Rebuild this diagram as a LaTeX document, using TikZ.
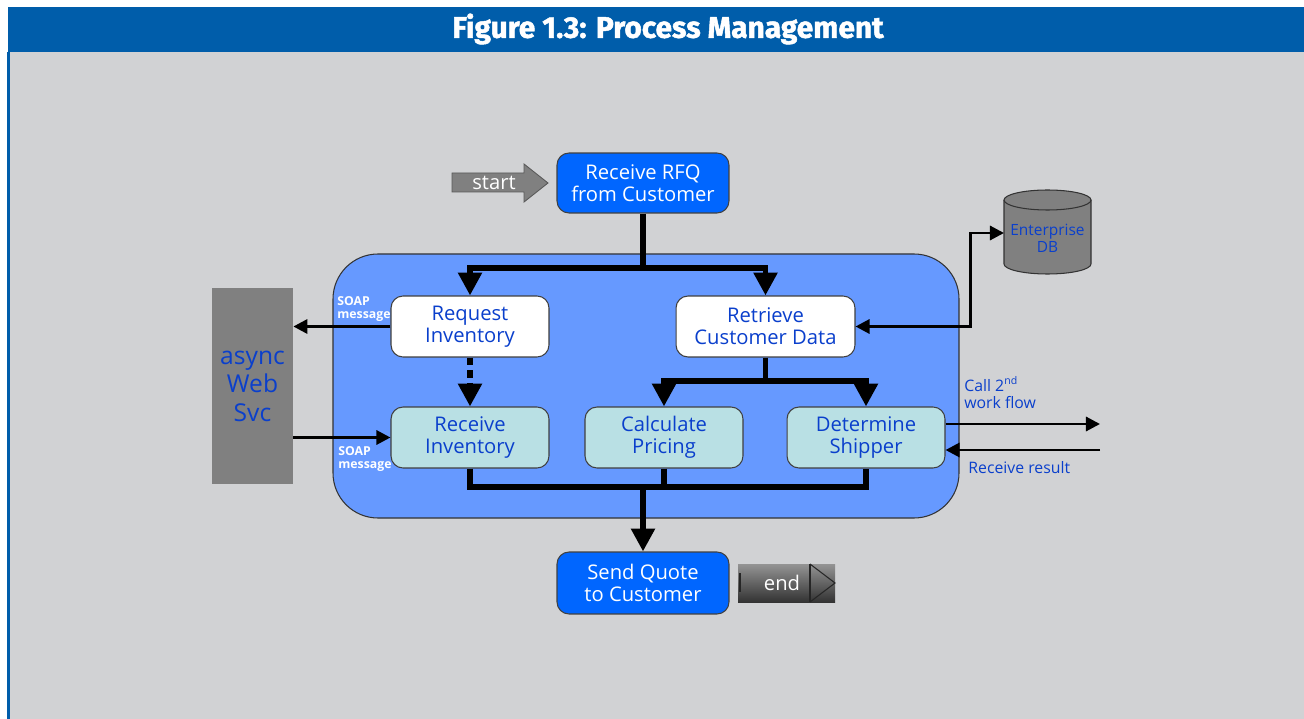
\documentclass[tikz,border=0pt]{standalone}
\usepackage{fontspec}
\setmainfont{Open Sans}
\newfontfamily\titlefont{Fira Sans}[BoldFeatures={FakeBold=1.6}]
\usetikzlibrary{arrows.meta}
\definecolor{hdrblue}{HTML}{005DAA}
\definecolor{bggray}{HTML}{D1D2D4}
\definecolor{boxblue}{HTML}{0066FF}
\definecolor{contblue}{HTML}{6699FF}
\definecolor{cyanbox}{HTML}{B9E0E4}
\definecolor{txtblue}{HTML}{0A3FCC}
\definecolor{midgray}{HTML}{808080}
\tikzset{
  procbox/.style={rounded corners=0.24cm, draw=black!75, line width=0.6pt, align=center,
    inner sep=0pt, minimum height=1.22cm, minimum width=3.16cm,
    font=\fontsize{11.5}{12.6}\selectfont},
  bluebox/.style={procbox, fill=boxblue, text=white, minimum width=3.44cm},
  whitebox/.style={procbox, fill=white, text=txtblue},
  lightbox/.style={procbox, fill=cyanbox, text=txtblue},
  bigline/.style={line width=3.4pt},
  bigarrow/.style={bigline, -{Triangle[width=13pt,length=13pt]}},
  thinarrow/.style={line width=1.7pt, -{Triangle[width=8pt,length=8pt]}},
  soaplbl/.style={anchor=north west, align=left, inner sep=0pt, text=white,
    font=\bfseries\fontsize{7}{7.6}\selectfont},
  sidelbl/.style={inner sep=0pt, align=left, text=txtblue, font=\fontsize{9}{9.8}\selectfont}
}
\begin{document}
\begin{tikzpicture}[x=0.02cm,y=-0.02cm]
\useasboundingbox (0,0) rectangle (1304,719);
\fill[white] (0,0) rectangle (1304,719);
% header and background
\fill[hdrblue] (8,7) rectangle (1304,52);
\fill[bggray] (10,52) rectangle (1304,719);
\fill[hdrblue] (7,52) rectangle (10,719);
\node[text=white, font=\titlefont\bfseries\fontsize{17}{19}\selectfont] (title) at (668,29) {Figure 1.3: Process Management};

% container
\draw[fill=contblue, draw=black!80, line width=0.6pt, rounded corners=0.9cm] (333,254) rectangle (959,518);

% async web svc
\node[fill=midgray, minimum width=1.62cm, minimum height=3.92cm, inner sep=0pt, align=center,
  text=txtblue, font=\fontsize{14}{16.2}\selectfont] (async) at (252.5,386) {async\\Web\\Svc};

% enterprise DB cylinder
\fill[midgray] (1004,200) -- (1004,264) arc[start angle=180, end angle=360, x radius=0.87cm, y radius=0.2cm] -- (1091,200) -- cycle;
\draw[black!80, line width=0.6pt] (1004,200) -- (1004,264) arc[start angle=180, end angle=360, x radius=0.87cm, y radius=0.2cm] -- (1091,200);
\draw[black!80, line width=0.6pt, fill=midgray] (1047.5,200) ellipse[x radius=0.87cm, y radius=0.2cm];
\node[minimum width=1.74cm, minimum height=1.7cm, inner sep=0pt, align=center, text=txtblue,
  font=\fontsize{8.8}{9.6}\selectfont] (db) at (1047.5,238) {Enterprise\\DB};
\coordinate (dbw) at (1004,233);

% start arrow
\draw[fill=midgray, draw=black!65, line width=0.5pt] (452,173) -- (524,173) -- (524,164) -- (548,183) -- (524,202) -- (524,192) -- (452,192) -- cycle;
\node[text=white, font=\fontsize{11.5}{13}\selectfont] (start) at (494,183) {start};

% end marker
\shade[top color=black!42, bottom color=black!80] (738,564) rectangle (835,602);
\draw[black!85, line width=0.6pt] (810,564) -- (810,602);
\draw[black!85, line width=0.6pt] (810,564) -- (835,583) -- (810,602);
\draw[black!85, line width=1pt] (740,573) -- (740,592);
\node[text=white, font=\fontsize{11.5}{13}\selectfont] (end) at (782,583) {end};

% process boxes
\node[bluebox, minimum height=1.2cm] (rfq) at (643,183) {Receive RFQ\\from Customer};
\node[whitebox] (req) at (470,326.5) {Request\\Inventory};
\node[whitebox, minimum width=3.58cm] (ret) at (765.5,326.5) {Retrieve\\Customer Data};
\node[lightbox] (rcv) at (470,437.5) {Receive\\Inventory};
\node[lightbox] (calc) at (664,437.5) {Calculate\\Pricing};
\node[lightbox] (det) at (866,437.5) {Determine\\Shipper};
\node[bluebox, minimum height=1.24cm] (send) at (643,583) {Send Quote\\to Customer};

% flow connectors
\coordinate (b1) at (643,268);
\coordinate (b2) at (765.5,381);
\coordinate (m) at (643,487);
\draw[bigarrow] (rfq.south) -- (b1) -| (req.north);
\draw[bigarrow] (b1) -| (ret.north);
\draw[bigarrow] (ret.south) -- (b2) -| (calc.north);
\draw[bigarrow] (b2) -| (det.north);
\draw[bigarrow, dash pattern=on 4.2pt off 3pt] (req.south) -- (rcv.north);
\draw[bigline] (rcv.south) |- (det.south |- m) -- (det.south);
\draw[bigline] (calc.south) -- (calc.south |- m);
\draw[bigarrow] (m) -- (send.north);

% side connectors
\coordinate (dbx) at (970,300);
\coordinate (o1) at (1100,424);
\coordinate (i1) at (1100,450);
\draw[thinarrow] (req.west) -- (req.west -| async.east);
\draw[thinarrow] (async.east |- rcv.west) -- (rcv.west);
\draw[line width=1.7pt, {Triangle[width=8pt,length=8pt]}-{Triangle[width=8pt,length=8pt]}] (ret.east) -- (ret.east -| dbx) |- (dbw);
\draw[thinarrow] (det.east |- o1) -- (o1);
\draw[thinarrow] (i1) -- (det.east |- i1);

% labels
\node[soaplbl] (soap1) at (337,296) {SOAP\\message};
\node[soaplbl] (soap2) at (338,446) {SOAP\\message};
\node[sidelbl, anchor=north west] (call) at (964,376) {Call 2\textsuperscript{nd}\\work flow};
\node[sidelbl, anchor=west] (recres) at (968,468) {Receive result};
\end{tikzpicture}
\end{document}
